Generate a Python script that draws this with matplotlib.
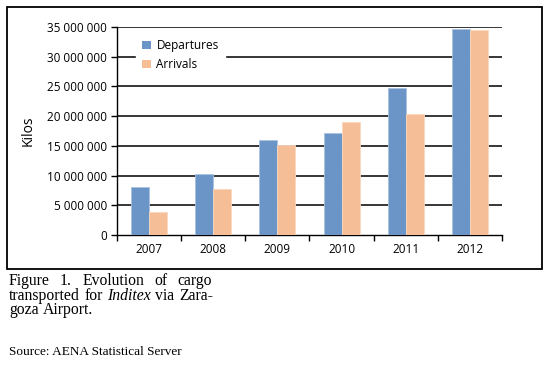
import matplotlib
matplotlib.use("Agg")
import matplotlib.pyplot as plt
from matplotlib.patches import Rectangle
import numpy as np

years = ["2007", "2008", "2009", "2010", "2011", "2012"]
departures = [8.0e6, 10.2e6, 16.05e6, 17.1e6, 24.7e6, 34.7e6]
arrivals = [3.8e6, 7.75e6, 15.15e6, 18.95e6, 20.3e6, 34.5e6]
series_names = ["Departures", "Arrivals"]
ytick_vals = [0, 5e6, 10e6, 15e6, 20e6, 25e6, 30e6, 35e6]

W, H = 547, 365
fig = plt.figure(figsize=(W / 100, H / 100), dpi=100)
plt.rcParams['font.family'] = ['Open Sans', 'DejaVu Sans']

# outer frame
fig.patches.append(Rectangle((7 / W, 1 - 269 / H), (542 - 7) / W, (269 - 7) / H,
                             transform=fig.transFigure, fill=False, lw=1.3,
                             edgecolor='black'))

left, right, top, bottom = 117, 502, 27, 235
ax = fig.add_axes([left / W, 1 - bottom / H, (right - left) / W, (bottom - top) / H])

x = np.arange(len(years))
bw = 0.28
blue = '#6b94c7'
peach = '#f6be96'
ax.bar(x - bw / 2, departures, bw, color=blue, edgecolor='#a9c2e0', lw=0.6,
       label=series_names[0], zorder=3)
ax.bar(x + bw / 2, arrivals, bw, color=peach, edgecolor='#f9d7bd', lw=0.6,
       label=series_names[1], zorder=3)

ax.set_xlim(-0.5, len(years) - 0.5)
ax.set_ylim(0, 35e6)
ax.set_yticks(ytick_vals)
ax.set_yticklabels([f"{int(v):,}".replace(",", " ") for v in ytick_vals], fontsize=8.5)
for v in ytick_vals[1:]:
    ax.axhline(v, color='black', lw=1.1, zorder=1)

ax.set_xticks(x)
ax.set_xticklabels(years, fontsize=8.5)
ax.tick_params(axis='x', length=0, pad=6)
ax.set_xticks(np.arange(-0.5, len(years)), minor=True)
ax.tick_params(axis='x', which='minor', length=4, width=1, direction='out')
ax.tick_params(axis='y', length=4, width=1, direction='out', pad=3)

for s in ['top', 'right']:
    ax.spines[s].set_visible(False)
ax.spines['left'].set_linewidth(1)
ax.spines['bottom'].set_linewidth(1)
ax.set_ylabel("Kilos", fontsize=10, labelpad=8)

leg = ax.legend(loc='upper left', bbox_to_anchor=(0.035, 1.0), fontsize=8.5,
                frameon=True, fancybox=False, edgecolor='white', framealpha=1,
                handlelength=0.7, handleheight=0.7, handletextpad=0.5,
                labelspacing=0.55, borderpad=0.5)
leg.set_zorder(5)
for h in leg.legend_handles:
    h.set_edgecolor('none')

# caption (justified lines)
serif = ['Liberation Serif', 'DejaVu Serif']
renderer = fig.canvas.get_renderer()


def justified_line(words, y_px, x0_px, x1_px, size, justify=True):
    texts = []
    widths = []
    for w, style in words:
        t = fig.text(0, 1 - y_px / H, w, family=serif, fontsize=size, style=style,
                     va='baseline')
        bb = t.get_window_extent(renderer)
        texts.append(t)
        widths.append(bb.width)
    total = sum(widths)
    if justify and len(words) > 1:
        gap = (x1_px - x0_px - total) / (len(words) - 1)
    else:
        gap = size * 100 / 72 * 0.25
    xpos = x0_px
    for t, wd in zip(texts, widths):
        t.set_x(xpos / W)
        xpos += wd + gap


cap_size = 11.3
justified_line([("Figure", 'normal'), ("1.", 'normal'), ("Evolution", 'normal'),
                ("of", 'normal'), ("cargo", 'normal')], 285, 9, 212, cap_size)
justified_line([("transported", 'normal'), ("for", 'normal'), ("Inditex", 'italic'),
                ("via", 'normal'), ("Zara-", 'normal')], 299.5, 9, 213, cap_size)
justified_line([("goza", 'normal'), ("Airport.", 'normal')], 314, 9, 95, cap_size,
               justify=False)
fig.text(9 / W, 1 - 355 / H, "Source: AENA Statistical Server", family=serif,
         fontsize=9.5, va='baseline')

fig.savefig("out.png", dpi=100)
